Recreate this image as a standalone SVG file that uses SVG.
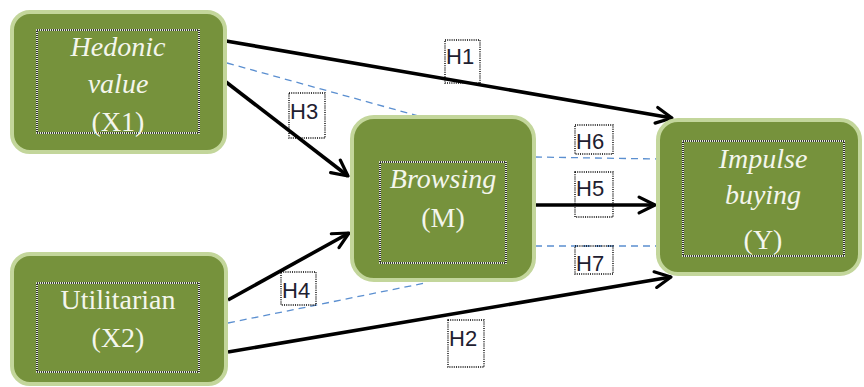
<svg xmlns="http://www.w3.org/2000/svg" width="864" height="387" viewBox="0 0 864 387">
<style>
.box{fill:#76923C;stroke:#C3D69B;stroke-width:4}
.innerw{fill:none;stroke:#ffffff;stroke-width:1.6}
.innerk{fill:none;stroke:#000;stroke-width:1.6;stroke-dasharray:1 1}
.nt{font-family:"Liberation Serif","DejaVu Serif",serif;font-size:28px;fill:#F4F6EC;text-anchor:middle}
.it{font-style:italic}
.arr{stroke:#000;stroke-width:3.6;fill:none;marker-end:url(#ah)}
.dash{stroke:#5B8FD0;stroke-width:1.3;stroke-dasharray:7 5;fill:none}
.lb{fill:none;stroke:#000;stroke-width:1.4;stroke-dasharray:1 1.2}
.lt{font-family:"Liberation Sans","DejaVu Sans",sans-serif;font-size:22px;fill:#1E2030}
</style>
<defs>
<marker id="ah" viewBox="0 0 10 10" refX="9" refY="5" markerWidth="5.5" markerHeight="5.5" orient="auto" markerUnits="strokeWidth">
<path d="M1,1 L9,5 L1,9" fill="none" stroke="#000" stroke-width="1.6" stroke-linejoin="round" stroke-linecap="round"/>
</marker>
</defs>
<g id="connectors">
<line class="dash" x1="227" y1="63" x2="422" y2="117"/>
<line class="dash" x1="228" y1="323" x2="425" y2="283"/>
<line class="dash" x1="535" y1="157" x2="657" y2="159"/>
<line class="dash" x1="535" y1="246" x2="657" y2="246"/>
<line class="arr" x1="226" y1="41" x2="672" y2="118"/>
<line class="arr" x1="226" y1="82" x2="348" y2="176"/>
<line class="arr" x1="228" y1="300" x2="349" y2="233"/>
<line class="arr" x1="228" y1="352" x2="671" y2="277"/>
<line class="arr" x1="535" y1="205" x2="655" y2="205"/>
</g>
<g id="X1">
<rect class="box" x="12" y="12" width="213" height="140" rx="18"/>
<rect class="innerw" x="37" y="30" width="162" height="103"/>
<rect class="innerk" x="37" y="30" width="162" height="103"/>
<text class="nt it" x="118" y="56">Hedonic</text>
<text class="nt it" x="118" y="93">value</text>
<text class="nt" x="118" y="131">(X1)</text>
</g>
<g id="X2">
<rect class="box" x="12" y="254" width="214" height="130" rx="18"/>
<rect class="innerw" x="37" y="283" width="162" height="89"/>
<rect class="innerk" x="37" y="283" width="162" height="89"/>
<text class="nt" x="118" y="309">Utilitarian</text>
<text class="nt" x="118" y="347">(X2)</text>
</g>
<g id="M">
<rect class="box" x="352" y="117" width="182" height="163" rx="22"/>
<rect class="innerw" x="380" y="162" width="126" height="101"/>
<rect class="innerk" x="380" y="162" width="126" height="101"/>
<text class="nt it" x="443" y="188">Browsing</text>
<text class="nt" x="443" y="227">(M)</text>
</g>
<g id="Y">
<rect class="box" x="658" y="120" width="202" height="154" rx="20"/>
<rect class="innerw" x="683" y="141" width="161" height="115"/>
<rect class="innerk" x="683" y="141" width="161" height="115"/>
<text class="nt it" x="763" y="168">Impulse</text>
<text class="nt it" x="763" y="204">buying</text>
<text class="nt" x="763" y="249">(Y)</text>
</g>
<g id="labels">
<rect class="lb" x="445" y="40" width="35" height="43"/><text class="lt" x="446" y="64">H1</text>
<rect class="lb" x="289" y="93" width="36" height="45"/><text class="lt" x="290" y="119">H3</text>
<rect class="lb" x="575" y="125" width="38" height="29"/><text class="lt" x="576" y="149">H6</text>
<rect class="lb" x="575" y="172" width="38" height="45"/><text class="lt" x="576" y="196">H5</text>
<rect class="lb" x="575" y="246" width="38" height="28"/><text class="lt" x="576" y="271">H7</text>
<rect class="lb" x="281" y="272" width="35" height="33"/><text class="lt" x="282" y="298">H4</text>
<rect class="lb" x="448" y="320" width="36" height="47"/><text class="lt" x="449" y="346">H2</text>
</g>
</svg>
